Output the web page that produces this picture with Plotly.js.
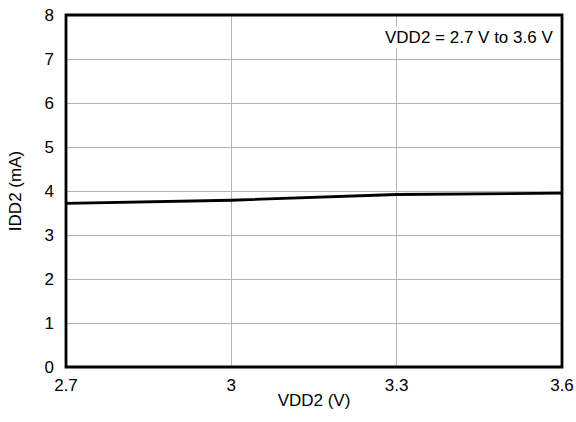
<!DOCTYPE html>
<html><head><meta charset="utf-8">
<script src="https://cdn.plot.ly/plotly-3.0.1.min.js"></script>
<style>html,body{margin:0;padding:0;background:#fff}#chart{width:576px;height:422px}</style>
</head><body><div id="chart"></div>
<script>
const vdd2 = [2.7, 3.0, 3.3, 3.6];
const idd2 = [3.72, 3.79, 3.92, 3.95];
const xTicks = [2.7, 3, 3.3, 3.6];
const xTickLabels = ['2.7', '3', '3.3', '3.6'];
const yTicks = [0, 1, 2, 3, 4, 5, 6, 7, 8];
const noteText = 'VDD2 = 2.7 V to 3.6 V';
const xTitle = 'VDD2 (V)';
const yTitle = 'IDD2 (mA)';

const font = {family: '"Liberation Sans", Arial, sans-serif', size: 17, color: '#000'};

Plotly.newPlot('chart', [{
  x: vdd2, y: idd2, mode: 'lines', type: 'scatter',
  line: {color: '#000', width: 2.8}, hoverinfo: 'skip'
}], {
  width: 576, height: 422,
  margin: {l: 66, r: 14, t: 15, b: 55},
  paper_bgcolor: '#fff', plot_bgcolor: '#fff',
  font: font, showlegend: false,
  xaxis: {
    range: [2.7, 3.6], tickvals: xTicks, ticktext: xTickLabels,
    showgrid: true, gridcolor: '#b4b4b4', gridwidth: 1,
    zeroline: false, showline: false, ticks: '', ticklabelstandoff: 6,
    tickfont: font,
    title: {text: xTitle, font: font, standoff: 0}
  },
  yaxis: {
    range: [0, 8], tickvals: yTicks,
    showgrid: true, gridcolor: '#b4b4b4', gridwidth: 1,
    zeroline: false, showline: false, ticks: '', ticklabelstandoff: 11,
    tickfont: font,
    title: {text: yTitle, font: font, standoff: 18}
  },
  shapes: [{
    type: 'rect', xref: 'paper', yref: 'paper', x0: 0, x1: 1, y0: 0, y1: 1,
    line: {color: '#000', width: 2.8}, layer: 'above'
  }],
  annotations: [{
    xref: 'paper', yref: 'paper', x: 0.985, y: 0.935,
    xanchor: 'right', yanchor: 'middle', showarrow: false,
    text: noteText, font: font, bgcolor: '#fff'
  }]
}, {displayModeBar: false, staticPlot: true});
</script></body></html>
